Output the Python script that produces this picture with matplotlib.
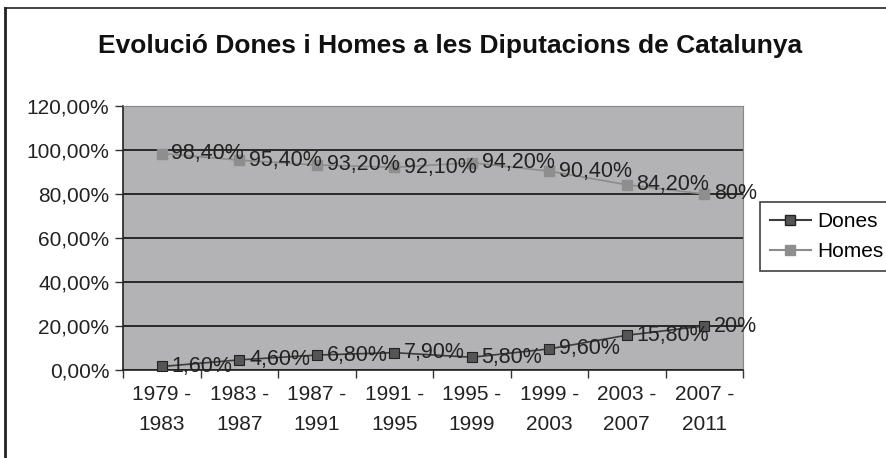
import matplotlib
matplotlib.use("Agg")
import matplotlib.pyplot as plt
from matplotlib.lines import Line2D

plt.rcParams['font.family'] = ['Liberation Sans', 'DejaVu Sans']

periods = ["1979 -\n1983", "1983 -\n1987", "1987 -\n1991", "1991 -\n1995",
           "1995 -\n1999", "1999 -\n2003", "2003 -\n2007", "2007 -\n2011"]
dones = [1.6, 4.6, 6.8, 7.9, 5.8, 9.6, 15.8, 20.0]
homes = [98.4, 95.4, 93.2, 92.1, 94.2, 90.4, 84.2, 80.0]
dones_labels = ["1,60%", "4,60%", "6,80%", "7,90%", "5,80%", "9,60%", "15,80%", "20%"]
homes_labels = ["98,40%", "95,40%", "93,20%", "92,10%", "94,20%", "90,40%", "84,20%", "80%"]
yticks = [0, 20, 40, 60, 80, 100, 120]

fig = plt.figure(figsize=(8.87, 4.58), dpi=100)
ax = fig.add_axes([0.1387, 0.1921, 0.699, 0.5765])
ax.set_facecolor('#b3b3b6')

x = list(range(len(periods)))
ax.plot(x, homes, color='#8c8c8c', lw=1.2, marker='s', ms=7,
        mfc='#8e8e8e', mec='#8e8e8e', zorder=3, clip_on=False)
ax.plot(x, dones, color='#3c3c3c', lw=1.2, marker='s', ms=7,
        mfc='#555555', mec='#222222', mew=0.8, zorder=3, clip_on=False)

for i in x:
    ax.annotate(homes_labels[i], (i, homes[i]), xytext=(7, 0), textcoords='offset points',
                va='center', ha='left', fontsize=15.5, color='#222222', zorder=4,
                annotation_clip=False)
    ax.annotate(dones_labels[i], (i, dones[i]), xytext=(7, 0), textcoords='offset points',
                va='center', ha='left', fontsize=15.5, color='#222222', zorder=4,
                annotation_clip=False)

ax.set_xlim(-0.5, len(periods) - 0.5)
ax.set_ylim(0, 120)
ax.set_yticks(yticks)
ax.set_yticklabels(["%d,00%%" % v for v in yticks], fontsize=15, color='#222222')
ax.yaxis.grid(True, color='#111111', lw=1.2)
ax.set_axisbelow(True)
ax.tick_params(axis='y', length=6, width=1, color='#333333', pad=4)

ax.set_xticks(x)
ax.set_xticklabels(periods, fontsize=15, color='#222222', linespacing=1.7)
ax.set_xticks([i - 0.5 for i in range(len(periods) + 1)], minor=True)
ax.tick_params(axis='x', which='major', length=0, pad=11)
ax.tick_params(axis='x', which='minor', length=6, width=1, color='#333333')

for side in ['top', 'right']:
    ax.spines[side].set_color('#888888')
for side in ['left', 'bottom']:
    ax.spines[side].set_color('#222222')
    ax.spines[side].set_linewidth(1.2)

fig.text(0.507, 0.9, "Evolució Dones i Homes a les Diputacions de Catalunya",
         ha='center', va='center', fontsize=19, fontweight='bold', color='#111111')

handles = [Line2D([], [], color='#3c3c3c', marker='s', ms=7, mfc='#555555', mec='#222222'),
           Line2D([], [], color='#8c8c8c', marker='s', ms=7, mfc='#8e8e8e', mec='#8e8e8e')]
leg = fig.legend(handles, ["Dones", "Homes"], loc='upper left',
                 bbox_to_anchor=(0.857, 0.558), fontsize=15, frameon=True,
                 fancybox=False, edgecolor='#111111', handlelength=2.0,
                 handletextpad=0.3, borderpad=0.45, labelspacing=0.55,
                 borderaxespad=0)
leg.get_frame().set_linewidth(1.2)

# outer frame (left and top edges visible)
fig.add_artist(Line2D([0.006, 0.006], [0.0, 0.983], color='#222222', lw=2.0))
fig.add_artist(Line2D([0.006, 1.0], [0.983, 0.983], color='#222222', lw=1.2))

fig.savefig("out.png", dpi=100)
